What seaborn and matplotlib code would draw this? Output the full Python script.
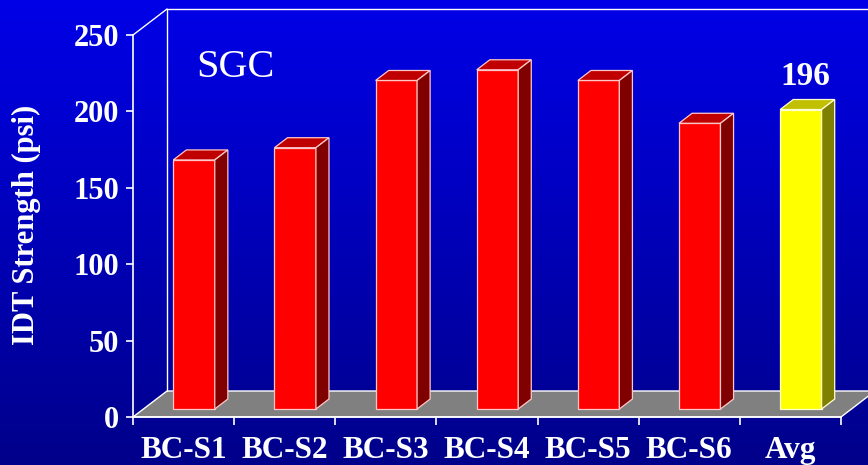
import numpy as np
import pandas as pd
import matplotlib
matplotlib.use("Agg")
import matplotlib.pyplot as plt
import matplotlib.transforms as mtrans
from matplotlib.patches import Polygon
from matplotlib.lines import Line2D
from matplotlib.colors import LinearSegmentedColormap
import seaborn as sns

# ---- data ----
categories = ["BC-S1", "BC-S2", "BC-S3", "BC-S4", "BC-S5", "BC-S6", "Avg"]
strength = [163, 171, 215, 222, 215, 187, 196]
y_ticks = [0, 50, 100, 150, 200, 250]
panel_label = "SGC"
y_title = "IDT Strength (psi)"
highlight = "Avg"
highlight_label = "196"

# ---- style ----
sns.set_style("ticks")
plt.rcParams["font.family"] = ["Liberation Serif", "DejaVu Serif"]

W, H, DPI = 868, 465, 100
fig = plt.figure(figsize=(W / DPI, H / DPI), dpi=DPI)

# background gradient
bg = fig.add_axes([0, 0, 1, 1], zorder=0)
grad = np.linspace(0, 1, 256).reshape(-1, 1)
cmap = LinearSegmentedColormap.from_list("bg", ["#0000e8", "#00008a"])
bg.imshow(grad, aspect="auto", cmap=cmap, extent=[0, 1, 0, 1], origin="upper")
bg.axis("off")

# main axes = front plane of the 3-D box
ax = fig.add_axes([133 / W, (H - 417) / H, 708 / W, 382 / H], zorder=1)
ax.patch.set_visible(False)

df = pd.DataFrame({"cat": categories, "val": strength})
face = {c: ("#ffff00" if c == highlight else "#ff0000") for c in categories}
top_col = {c: ("#c0c000" if c == highlight else "#c00000") for c in categories}
side_col = {c: ("#808000" if c == highlight else "#800000") for c in categories}
edge_col = {c: ("#ffffd0" if c == highlight else "#ffc8c8") for c in categories}

sns.barplot(data=df, x="cat", y="val", hue="cat", palette=face, width=0.41,
            saturation=1, legend=False, ax=ax, zorder=3)
ax.set_xlim(-0.5, len(categories) - 0.5)
ax.set_ylim(y_ticks[0], y_ticks[-1])
ax.set_xlabel("")
ax.set_ylabel("")

DEPTH = np.array([34.0, 26.0])      # px, depth vector of the 3-D box
BAR_FRONT, BAR_BACK = 8 / 26, 18 / 26
ident = mtrans.IdentityTransform()

# floor and back wall
fl = ax.transAxes.transform((0, 0))
fr = ax.transAxes.transform((1, 0))
tl = ax.transAxes.transform((0, 1))
trr = ax.transAxes.transform((1, 1))
floor = Polygon([fl, fr, fr + DEPTH, fl + DEPTH], closed=True, transform=ident,
                facecolor="#808080", edgecolor="white", lw=1.0, zorder=1, clip_on=False)
ax.add_patch(floor)
for a, b in [(fl + DEPTH, tl + DEPTH), (tl + DEPTH, trr + DEPTH), (tl, tl + DEPTH),
             (fr + DEPTH, trr + DEPTH)]:
    ax.add_line(Line2D([a[0], b[0]], [a[1], b[1]], transform=ident, color="white",
                       lw=1.0, zorder=1, clip_on=False))

# bars: shift front faces into mid-depth and add top/side faces
off = mtrans.ScaledTranslation(DEPTH[0] * BAR_FRONT / DPI, DEPTH[1] * BAR_FRONT / DPI,
                               fig.dpi_scale_trans)
T = ax.transData + off
d = DEPTH * (BAR_BACK - BAR_FRONT)
bars = [p for p in ax.patches if p is not floor]
for cat, p in zip(categories, bars):
    p.set_transform(T)
    p.set_clip_on(False)
    p.set_edgecolor(edge_col[cat])
    p.set_linewidth(0.9)
    x0, y0, w, h = p.get_x(), p.get_y(), p.get_width(), p.get_height()
    ptl = T.transform((x0, y0 + h))
    ptr = T.transform((x0 + w, y0 + h))
    pbr = T.transform((x0 + w, y0))
    ax.add_patch(Polygon([ptl, ptr, ptr + d, ptl + d], closed=True, transform=ident,
                         facecolor=top_col[cat], edgecolor=edge_col[cat], lw=0.9,
                         zorder=3, clip_on=False))
    ax.add_patch(Polygon([ptr, pbr, pbr + d, ptr + d], closed=True, transform=ident,
                         facecolor=side_col[cat], edgecolor=edge_col[cat], lw=0.9,
                         zorder=3, clip_on=False))

# axes styling
for s in ["top", "right"]:
    ax.spines[s].set_visible(False)
for s in ["left", "bottom"]:
    ax.spines[s].set_color("white")
    ax.spines[s].set_linewidth(1.2)
    ax.spines[s].set_zorder(2)

ax.set_yticks(y_ticks)
ax.tick_params(axis="y", colors="white", length=5, width=1.2, direction="out",
               pad=5, labelsize=22, left=True)
ax.set_xticks(range(len(categories)))
ax.set_xticklabels(categories)
ax.set_xticks(np.arange(-0.5, len(categories)), minor=True)
ax.tick_params(axis="x", which="major", length=0, pad=13.5, labelsize=22.5,
               labelcolor="white")
ax.tick_params(axis="x", which="minor", length=6, width=1.2, color="white",
               direction="out", bottom=True)
for lbl in ax.get_yticklabels() + ax.get_xticklabels():
    lbl.set_fontweight("bold")

ax.text(0.09, 0.89, panel_label, transform=ax.transAxes, fontsize=29,
        color="white", ha="left", va="baseline")

hi = categories.index(highlight)
ax.annotate(highlight_label, xy=(hi, strength[hi]),
            xytext=(15 * 72 / DPI, 32.5 * 72 / DPI), textcoords="offset points",
            ha="center", va="baseline", fontsize=24, fontweight="bold",
            color="white", annotation_clip=False)

fig.text(26 / W, 1 - 225 / H, y_title, rotation=90, ha="center", va="center",
         fontsize=22, fontweight="bold", color="white")

fig.savefig("out.png", dpi=DPI)
